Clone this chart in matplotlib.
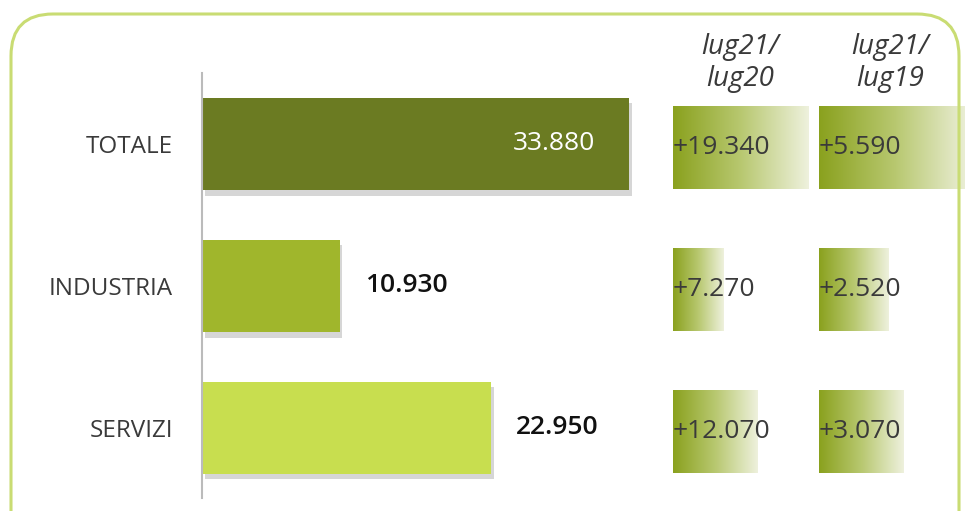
import numpy as np
import matplotlib
matplotlib.use('Agg')
import matplotlib.pyplot as plt
from matplotlib.patches import FancyBboxPatch
from matplotlib.colors import LinearSegmentedColormap
import matplotlib.patheffects as pe

# dati
settori = ['TOTALE', 'INDUSTRIA', 'SERVIZI']
valori = [33880, 10930, 22950]
etichette = ['33.880', '10.930', '22.950']
var_20 = [19340, 7270, 12070]
var_20_lab = ['+19.340', '+7.270', '+12.070']
var_19 = [5590, 2520, 3070]
var_19_lab = ['+5.590', '+2.520', '+3.070']
intestazioni = ['lug21/\nlug20', 'lug21/\nlug19']

colori = ['#6b7b22', '#a0b62c', '#c8de4f']
testo = '#3a3a3a'
font = 'Open Sans'

W, H = 965, 511
fig = plt.figure(figsize=(W / 100, H / 100), dpi=100)

def px_axes(x0, y0, w, h):
    # coordinate in pixel dall'alto a sinistra
    return fig.add_axes([x0 / W, 1 - (y0 + h) / H, w / W, h / H])

# cornice arrotondata
bordo = FancyBboxPatch((0.11, -0.5), 9.48, 5.47,
                       boxstyle='round,pad=0,rounding_size=0.42',
                       transform=fig.dpi_scale_trans, fill=False,
                       edgecolor='#c9dc73', linewidth=2.2)
fig.patches.append(bordo)

y = np.arange(len(settori))
scala = 0.0126  # px per unita'

ax = px_axes(202, 73, 504, 425)
ax.set_xlim(0, 504 / scala)
ax.set_ylim(2.495, -0.5)
ombra = [pe.SimplePatchShadow(offset=(2, -4), shadow_rgbFace='#999999', alpha=0.4), pe.Normal()]
barre = ax.barh(y, valori, height=0.65, color=colori, path_effects=ombra)
for s in ['top', 'right', 'bottom']:
    ax.spines[s].set_visible(False)
ax.spines['left'].set_color('#bbbbbb')
ax.spines['left'].set_linewidth(1.5)
ax.set_xticks([])
ax.set_yticks(y)
ax.set_yticklabels(settori, fontsize=17.5, color=testo, family=font)
ax.tick_params(axis='y', length=0, pad=21)
ax.patch.set_alpha(0)

ax.text(valori[0] - 2700, y[0], etichette[0], ha='right', va='center',
        color='white', fontsize=19, family=font)
for i in (1, 2):
    ax.text(valori[i] + 2000, y[i], etichette[i], ha='left', va='center',
            color='#111111', fontsize=19, fontweight='semibold', family=font)

cmap = LinearSegmentedColormap.from_list('g', ['#8aa11e', '#b8c870', '#eef1dd'])
grad = np.linspace(0, 1, 256).reshape(1, -1)

def colonna(x0, larg, scala_c, dati, lab):
    a = px_axes(x0, 77, larg, 425)
    a.axis('off')
    for yi, v, t in zip(y, dati, lab):
        a.imshow(grad, cmap=cmap, aspect='auto',
                 extent=(0, v, yi + 0.29, yi - 0.29))
        a.text(0, yi, t, ha='left', va='center', color=testo,
               fontsize=19, family=font)
    a.set_xlim(0, larg / scala_c)
    a.set_ylim(2.495, -0.5)
    return a

colonna(673, 140, 0.0070, var_20, var_20_lab)
colonna(819, 146, 0.0274, var_19, var_19_lab)

for xc, t in zip([740, 890], intestazioni):
    fig.text(xc / W, 1 - 63 / H, t, ha='center', va='center', color=testo,
             fontsize=20, style='italic', family=font, linespacing=1.2)

fig.savefig('out.png', dpi=100)
